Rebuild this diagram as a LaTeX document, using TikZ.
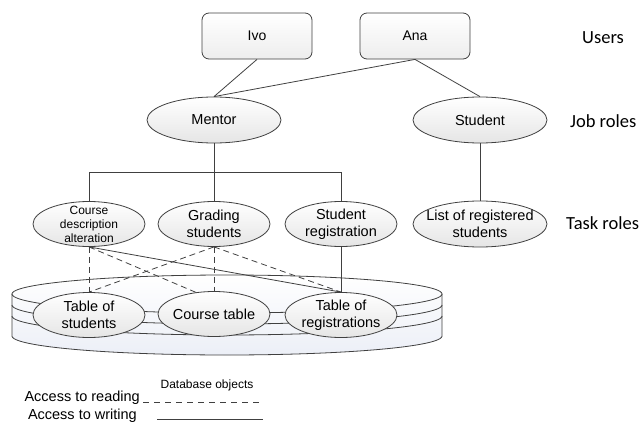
\documentclass[tikz,border=0pt]{standalone}
\usepackage{fontspec}
\setmainfont{Liberation Sans}
\newfontfamily\calibrifont{Carlito}
\usetikzlibrary{shapes.geometric}
\definecolor{lc}{HTML}{404040}
\definecolor{dbfill}{HTML}{ECEFF7}
\begin{document}
\begin{tikzpicture}[x=1pt,y=-1pt,
 every node/.style={font=\fontsize{14.5}{16.5}\selectfont},
 ell/.style={ellipse, draw=lc, line width=0.8pt, top color=white, bottom color=black!10, inner sep=0pt, minimum width=112pt, minimum height=45pt},
 wide/.style={minimum width=134pt, minimum height=46pt},
 txt/.style={align=center, inner sep=0pt},
 small/.style={font=\fontsize{12}{14}\selectfont},
 usr/.style={rectangle, rounded corners=7pt, draw=lc, line width=0.8pt, top color=white, bottom color=black!7, minimum width=110pt, minimum height=46pt, font=\fontsize{14}{16}\selectfont},
 con/.style={draw=lc, line width=0.8pt},
 rd/.style={con, dash pattern=on 6pt off 4pt},
 side/.style={font=\calibrifont\fontsize{18.5}{20}\selectfont, anchor=base west, inner sep=0pt}
]
\useasboundingbox (0,0) rectangle (643,423);

% database cylinder
\path[top color=white, bottom color=dbfill]
  (12,294) -- plot[domain=180:0,samples=90] ({227+215*cos(\x)},{336+19*sin(\x)})
  -- (442,294) -- plot[domain=0:180,samples=90] ({227+215*cos(\x)},{294-19*sin(\x)}) -- cycle;
\draw[con]
  (12,294) -- plot[domain=180:0,samples=90] ({227+215*cos(\x)},{336+19*sin(\x)})
  -- (442,294) -- plot[domain=0:180,samples=90] ({227+215*cos(\x)},{294-19*sin(\x)}) -- cycle;
\draw[con] plot[domain=180:0,samples=90] ({227+215*cos(\x)},{294+19*sin(\x)});
\draw[con] plot[domain=180:0,samples=90] ({227+215*cos(\x)},{305+19*sin(\x)});
\draw[con] plot[domain=180:0,samples=90] ({227+215*cos(\x)},{316+19*sin(\x)});

% users
\node[usr] (ivo) at (257,36) {Ivo};
\node[usr] (ana) at (415,36) {Ana};

% job roles
\node[ell,wide,label={[txt]center:Mentor}] (mentor) at (214,120) {};
\node[ell,wide,label={[txt]center:Student}] (student) at (480,120) {};

% task roles
\node[ell,label={[txt,small]center:{Course\\description\\alteration}}] (cda) at (89,224) {};
\node[ell,label={[txt]center:{Grading\\students}}] (grading) at (214,224) {};
\node[ell,label={[txt]center:{Student\\registration}}] (sreg) at (341,224) {};
\node[ell,wide,label={[txt]center:{List of registered\\students}}] (list) at (480,224) {};

% database objects
\node[ell,label={[txt]center:{Table of\\students}}] (tstud) at (89,315) {};
\node[ell,label={[txt]center:{Course table}}] (ctable) at (214,314) {};
\node[ell,label={[txt]center:{Table of\\registrations}}] (treg) at (341,315) {};

% user -> job role
\draw[con] (ivo.south) -- (mentor.north);
\draw[con] (ana.south) -- (mentor.north);
\draw[con] (ana.south) -- (student.north);

% job role -> task role
\coordinate (br) at (214,172);
\draw[con] (mentor.south) -- (br);
\draw[con] (br) -| (cda.north);
\draw[con] (br) -| (sreg.north);
\draw[con] (br) -- (grading.north);
\draw[con] (student.south) -- (list.north);

% task role -> database objects
\draw[rd] (cda.south) -- (tstud.north);
\draw[rd] (cda.south) -- (ctable.130);
\draw[con] (cda.south) -- (treg.north);
\draw[rd] (grading.south) -- (tstud.north);
\draw[rd] (grading.south) -- (ctable.north);
\draw[rd] (grading.south) -- (treg.north);
\draw[con] (sreg.south) -- (treg.north);

% level labels
\node[side] (lusers) at (582,43) {Users};
\node[side] (ljob) at (570,127) {Job roles};
\node[side] (ltask) at (566,229) {Task roles};

% legend
\node[small, anchor=base, inner sep=0pt] (dbo) at (207,388) {Database objects};
\node[anchor=base east, inner sep=0pt] (rdtxt) at (140,401) {Access to reading};
\node[anchor=base east, inner sep=0pt] (wrtxt) at (137,419) {Access to writing};
\coordinate (r1) at (143,402);
\coordinate (r2) at (263,402);
\draw[con, dash pattern=on 6pt off 5pt] (r1) -- (r2);
\coordinate (w1) at (157,419);
\coordinate (w2) at (263,419);
\draw[con] (w1) -- (w2);
\end{tikzpicture}
\end{document}
